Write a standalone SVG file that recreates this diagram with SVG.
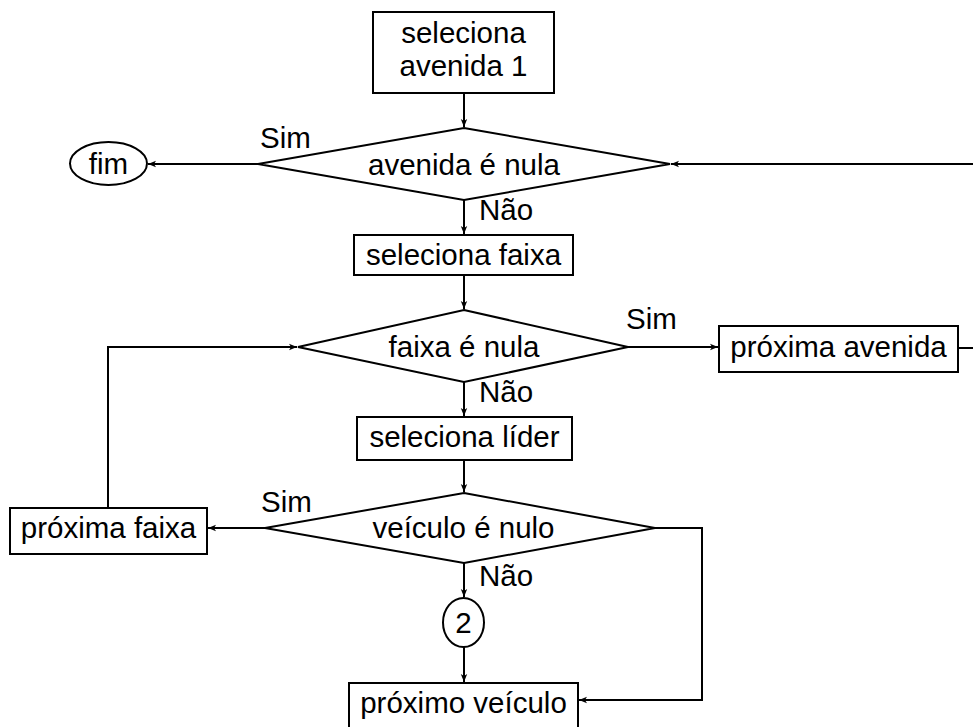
<svg xmlns="http://www.w3.org/2000/svg" width="973" height="727" viewBox="0 0 973 727">
<defs>
<marker id="arr" markerWidth="10" markerHeight="8" refX="9" refY="4" orient="auto" markerUnits="userSpaceOnUse">
<path d="M1,0.8 L9,4 L1,7.2 L3,4 Z" fill="#000"/>
</marker>
</defs>
<style>
.s{fill:#fff;stroke:#000;stroke-width:2}
.t{font-family:"Liberation Sans",Arial,sans-serif;font-size:29.5px;fill:#000}
.c{text-anchor:middle}
.e{fill:none;stroke:#000;stroke-width:2}
</style>
<rect width="973" height="727" fill="#fff"/>
<g id="connectors">
<path class="e" d="M464,93 L464,127" marker-end="url(#arr)"/>
<path class="e" d="M258,164 L148,164" marker-end="url(#arr)"/>
<path class="e" d="M958,348 L990,348 L990,164 L671,164" marker-end="url(#arr)"/>
<path class="e" d="M464,200 L464,234" marker-end="url(#arr)"/>
<path class="e" d="M464,275 L464,309" marker-end="url(#arr)"/>
<path class="e" d="M628,347 L718,347" marker-end="url(#arr)"/>
<path class="e" d="M464,382 L464,416" marker-end="url(#arr)"/>
<path class="e" d="M464,460 L464,492" marker-end="url(#arr)"/>
<path class="e" d="M265,528 L208,528" marker-end="url(#arr)"/>
<path class="e" d="M108,508 L108,347 L297,347" marker-end="url(#arr)"/>
<path class="e" d="M464,563 L464,597" marker-end="url(#arr)"/>
<path class="e" d="M464,647 L464,682" marker-end="url(#arr)"/>
<path class="e" d="M655,528 L702,528 L702,700 L579,700" marker-end="url(#arr)"/>
</g>
<g id="n_sel_av">
<rect class="s" x="373" y="12" width="181" height="81"/>
<text class="t c" x="463.5" y="43">seleciona</text>
<text class="t c" x="463.5" y="76">avenida 1</text>
</g>
<g id="n_av_nula">
<polygon class="s" points="464,128 670,164 464,200 258,164"/>
<text class="t c" x="464" y="175">avenida é nula</text>
</g>
<g id="n_fim">
<ellipse class="s" cx="108.5" cy="163.5" rx="38.5" ry="21.5"/>
<text class="t c" x="108.5" y="174">fim</text>
</g>
<g id="n_sel_faixa">
<rect class="s" x="354" y="235" width="219" height="40"/>
<text class="t c" x="463.5" y="265">seleciona faixa</text>
</g>
<g id="n_faixa_nula">
<polygon class="s" points="464,310 628,347 464,382 298,347"/>
<text class="t c" x="464" y="357">faixa é nula</text>
</g>
<g id="n_prox_av">
<rect class="s" x="719" y="326" width="239" height="46"/>
<text class="t c" x="838.5" y="357">próxima avenida</text>
</g>
<g id="n_sel_lider">
<rect class="s" x="357" y="417" width="215" height="43"/>
<text class="t c" x="464.5" y="447">seleciona líder</text>
</g>
<g id="n_veic_nulo">
<polygon class="s" points="464,493 655,528 464,563 265,528"/>
<text class="t c" x="463.5" y="538">veículo é nulo</text>
</g>
<g id="n_prox_faixa">
<rect class="s" x="10" y="508" width="197" height="46"/>
<text class="t c" x="108.5" y="538">próxima faixa</text>
</g>
<g id="n_2">
<ellipse class="s" cx="463.5" cy="622.5" rx="20.5" ry="24.5"/>
<text class="t c" x="463.5" y="633">2</text>
</g>
<g id="n_prox_veic">
<rect class="s" x="349" y="683" width="229" height="50"/>
<text class="t c" x="463.5" y="713">próximo veículo</text>
</g>
<g id="labels">
<text class="t" x="260" y="148">Sim</text>
<text class="t" x="479" y="220">Não</text>
<text class="t" x="626" y="329">Sim</text>
<text class="t" x="479" y="402">Não</text>
<text class="t" x="261" y="512">Sim</text>
<text class="t" x="479" y="586">Não</text>
</g>
</svg>
